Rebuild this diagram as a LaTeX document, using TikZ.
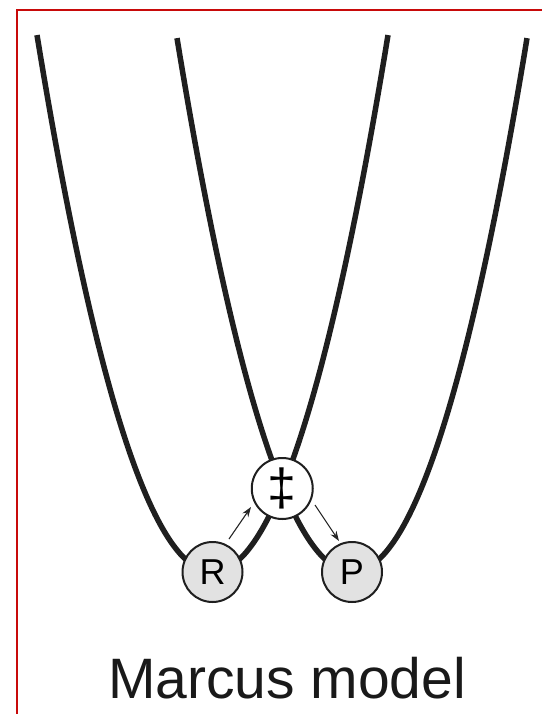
\documentclass[tikz,border=0pt]{standalone}
\usepackage{fontspec}
\setmainfont{Liberation Sans}
\usetikzlibrary{arrows.meta}
\definecolor{frame}{RGB}{200,10,10}
\definecolor{stategray}{RGB}{226,226,226}
\tikzset{
  well/.style={line width=5.5pt, black!88},
  statenode/.style={circle, draw=black!88, line width=2pt, minimum size=60pt, inner sep=0pt, font=\fontsize{36}{36}\selectfont},
  flow/.style={line width=1.1pt, black!85, -{Stealth[length=10pt,width=7pt]}}
}
\begin{document}
\begin{tikzpicture}[x=1pt,y=-1pt]
\useasboundingbox (0,0) rectangle (542,714);
% frame
\draw[frame, line width=2pt] (16.5,714) -- (16.5,10.5) -- (542,10.5);
% parabolas
\draw[well] plot[domain=37:388, samples=120, smooth] (\x,{572-((\x-212.5)*0.13203)^2});
\draw[well] plot[domain=177:527, samples=120, smooth] (\x,{572-((\x-352)*0.13203)^2});
% states
\node[statenode, fill=stategray] (R) at (212.5,572) {R};
\node[statenode, fill=stategray] (P) at (352,572) {P};
\node[statenode, fill=white, minimum size=61pt, font=\fontsize{52}{52}\selectfont] (TS) at (282.25,488.5) {‡};
% arrows
\coordinate (a1s) at (229,539);
\coordinate (a1e) at (251,507);
\coordinate (a2s) at (315,505);
\coordinate (a2e) at (339,541);
\draw[flow] (a1s) -- (a1e);
\draw[flow] (a2s) -- (a2e);
% title
\node[anchor=base, font=\fontsize{57}{57}\selectfont, text=black!90] (title) at (287,698) {Marcus model};
\end{tikzpicture}
\end{document}
